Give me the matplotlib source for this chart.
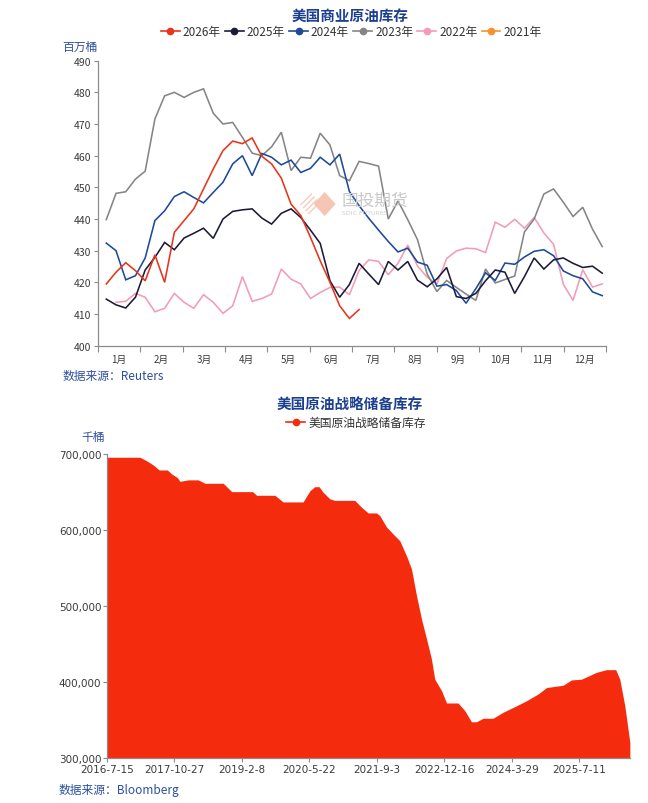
import numpy as np
import pandas as pd
import matplotlib
matplotlib.use("Agg")
import matplotlib.pyplot as plt
from matplotlib.lines import Line2D
from matplotlib.patches import Polygon
from matplotlib.ticker import FuncFormatter, FixedLocator

plt.rcParams['font.family'] = ['Noto Sans CJK SC', 'DejaVu Sans']

# ---- 美国商业原油库存 (百万桶), 每周数据 ----
months = ['1月', '2月', '3月', '4月', '5月', '6月', '7月', '8月', '9月', '10月', '11月', '12月']

y2026 = [419.5, 423.2, 426.2, 423.7, 420.5, 428.7, 420.0, 435.8, 439.5, 443.2, 449.5, 455.8,
         461.6, 464.6, 463.8, 465.6, 459.8, 457.4, 452.9, 444.7, 441.1, 434.2, 426.8, 420.0,
         412.6, 408.6, 411.4]
y2025 = [414.7, 412.9, 411.9, 415.3, 423.9, 427.9, 432.6, 430.3, 434.0, 435.5, 437.1, 433.9,
         440.0, 442.4, 442.9, 443.2, 440.3, 438.4, 441.8, 443.2, 440.5, 436.5, 432.3, 420.5,
         415.3, 419.3, 426.0, 422.6, 419.3, 426.6, 423.9, 426.6, 420.7, 418.6, 421.1, 424.7,
         415.5, 414.9, 416.5, 420.5, 423.9, 423.2, 416.5, 421.8, 427.7, 424.2, 427.1, 427.7,
         426.0, 424.7, 425.1, 422.9]
y2024 = [432.4, 430.0, 420.8, 422.1, 427.7, 439.5, 442.6, 447.1, 448.6, 446.8, 445.1, 448.4,
         451.6, 457.4, 460.0, 453.7, 460.7, 459.5, 457.1, 458.6, 454.7, 456.0, 459.5, 457.1,
         460.5, 448.7, 444.2, 440.2, 436.5, 432.9, 429.6, 430.8, 426.4, 425.4, 418.8, 419.3,
         417.4, 413.4, 418.0, 423.0, 420.6, 426.1, 425.7, 428.0, 429.8, 430.3, 428.4, 423.6,
         422.1, 421.1, 417.0, 415.8]
y2023 = [439.8, 448.1, 448.6, 452.6, 455.1, 471.6, 478.9, 480.0, 478.4, 480.0, 481.1, 473.4,
         470.0, 470.5, 465.8, 460.8, 460.0, 462.8, 467.4, 455.3, 459.5, 459.2, 467.1, 463.4,
         453.7, 452.1, 458.2, 457.5, 456.7, 440.0, 445.7, 439.8, 433.5, 422.6, 417.1, 420.6,
         418.4, 416.3, 414.3, 424.2, 419.8, 420.9, 422.0, 435.9, 440.0, 447.9, 449.5, 445.3,
         440.8, 443.7, 436.8, 431.3]
y2022 = [np.nan, 413.7, 414.0, 416.5, 415.3, 410.7, 411.8, 416.5, 413.7, 411.8, 416.1, 413.7,
         410.2, 412.6, 421.8, 414.0, 414.9, 416.3, 424.2, 421.0, 419.5, 414.9, 416.8, 418.4,
         418.5, 416.1, 423.8, 427.1, 426.6, 422.4, 426.0, 431.8, 425.2, 421.6, 419.5, 427.5,
         429.9, 430.8, 430.6, 429.4, 439.0, 437.4, 439.9, 437.1, 440.5, 435.6, 432.0, 419.4,
         414.3, 424.0, 418.5, 419.5]
y2021 = []

series = [('2026年', y2026, '#E8341C'), ('2025年', y2025, '#1B1B38'),
          ('2024年', y2024, '#1D4A9A'), ('2023年', y2023, '#858585'),
          ('2022年', y2022, '#F39CB6'), ('2021年', y2021, '#F7912E')]

# ---- 美国原油战略储备库存 (千桶) ----
spr_dates = ['2016-07-15', '2017-03-01', '2017-04-17', '2017-06-02', '2017-07-13', '2017-09-07',
             '2017-10-08', '2017-11-16', '2017-12-04', '2018-01-31', '2018-04-10', '2018-05-27',
             '2018-10-01', '2018-11-29', '2019-04-23', '2019-05-21', '2019-09-25', '2019-11-21',
             '2020-04-08', '2020-05-26', '2020-06-28', '2020-07-28', '2020-08-25', '2020-10-11',
             '2020-11-14', '2021-04-02', '2021-05-19', '2021-07-04', '2021-08-31', '2021-09-23',
             '2021-11-09', '2021-12-24', '2022-02-09', '2022-03-28', '2022-05-01', '2022-06-05',
             '2022-07-10', '2022-08-14', '2022-09-17', '2022-10-10', '2022-11-26', '2022-12-31',
             '2023-03-21', '2023-05-07', '2023-06-22', '2023-07-27', '2023-09-11', '2023-11-19',
             '2024-01-28', '2024-04-30', '2024-07-09', '2024-09-27', '2024-11-25', '2025-03-20',
             '2025-05-17', '2025-07-26', '2025-11-07', '2026-01-16', '2026-03-21', '2026-04-18',
             '2026-05-23', '2026-06-27']
spr_values = [695700, 695700, 691000, 685500, 679000, 679000, 673700, 669000, 664000, 666000,
              666000, 661500, 661500, 650500, 650500, 645700, 645700, 637000, 637000, 651800,
              657000, 657000, 649700, 641000, 639000, 639000, 630000, 622500, 622500, 619000,
              604000, 595000, 586000, 566000, 549000, 514000, 483000, 457000, 430500, 404000,
              389000, 372700, 372700, 362600, 348000, 348000, 352600, 352600, 360500, 369000,
              375700, 384500, 393000, 396000, 403000, 404000, 413000, 416500, 416500, 404000,
              369000, 321000]
spr_ticks = ['2016-07-15', '2017-10-27', '2019-02-08', '2020-05-22', '2021-09-03',
             '2022-12-16', '2024-03-29', '2025-07-11']

title_blue = '#1C3F8F'
src_blue = '#2D4F9E'
axis_gray = '#8C8C8C'
tick_text = '#3A3A3A'

fig = plt.figure(figsize=(6.48, 8.04), dpi=100)

# ================= top chart =================
ax1 = fig.add_axes([0.1512, 0.5688, 0.7840, 0.3545])
x_lo, x_hi = -0.855, 51.39
for name, vals, col in reversed(series):
    if len(vals) == 0:
        continue
    ax1.plot(np.arange(len(vals)), vals, color=col, lw=1.15, solid_joinstyle='miter')

ax1.set_xlim(x_lo, x_hi)
ax1.set_ylim(400, 490)
ax1.set_yticks(np.arange(400, 491, 10))
mw = (x_hi - x_lo) / 12
ax1.xaxis.set_major_locator(FixedLocator([x_lo + k * mw for k in range(13)]))
ax1.xaxis.set_minor_locator(FixedLocator([x_lo + (k + 0.5) * mw for k in range(12)]))
ax1.set_xticklabels([], minor=False)
ax1.set_xticklabels(months, minor=True)
ax1.tick_params(axis='x', which='major', length=4, width=0.8, color=axis_gray)
ax1.tick_params(axis='x', which='minor', length=0, labelsize=7, labelcolor=tick_text, pad=6)
ax1.tick_params(axis='y', length=3, width=0.8, color=axis_gray, labelsize=7.5,
                labelcolor=tick_text, pad=2)
for s in ['top', 'right']:
    ax1.spines[s].set_visible(False)
for s in ['left', 'bottom']:
    ax1.spines[s].set_color(axis_gray)
    ax1.spines[s].set_linewidth(0.9)

fig.text(0.54, 0.980, '美国商业原油库存', ha='center', va='center', fontsize=10.5,
         fontweight='bold', color=title_blue)
handles = [Line2D([0], [0], color=c, lw=1.2, marker='o', markersize=4.5) for _, _, c in series]
fig.legend(handles, [n for n, _, _ in series], loc='center', bbox_to_anchor=(0.542, 0.959),
           ncol=6, frameon=False, fontsize=8.5, handlelength=1.6, handletextpad=0.25,
           columnspacing=0.35, labelcolor='#333333', borderpad=0)
fig.text(0.096, 0.941, '百万桶', ha='left', va='center', fontsize=8.5, color=src_blue)
fig.text(0.096, 0.532, '数据来源：Reuters', ha='left', va='center', fontsize=8.5, color=src_blue)

# watermark
wm = '#F5BFAE'
fig.patches.append(Polygon([[0.462, 0.745], [0.479, 0.760], [0.496, 0.745], [0.479, 0.730]],
                           closed=True, transform=fig.transFigure, fill=False, hatch='//////',
                           edgecolor=wm, lw=0, alpha=0.8))
fig.patches.append(Polygon([[0.484, 0.745], [0.501, 0.760], [0.518, 0.745], [0.501, 0.730]],
                           closed=True, transform=fig.transFigure, facecolor=wm, lw=0, alpha=0.9))
fig.text(0.527, 0.750, '国投期货', ha='left', va='center', fontsize=12, color='#C9C9C9')
fig.text(0.528, 0.734, 'SDIC FUTURES', ha='left', va='center', fontsize=4.5, color='#CFCFCF',
         family=['DejaVu Sans'])

# ================= bottom chart =================
ax2 = fig.add_axes([0.1651, 0.0556, 0.8071, 0.3785])
d = pd.to_datetime(spr_dates)
ax2.fill_between(d, spr_values, 300000, color='#F52B0E', lw=0)
ax2.set_xlim(pd.Timestamp('2016-07-15'), pd.Timestamp('2026-06-28'))
ax2.set_ylim(300000, 700000)
ax2.set_yticks(np.arange(300000, 700001, 100000))
ax2.yaxis.set_major_formatter(FuncFormatter(lambda v, p: f"{int(v):,}"))
td = pd.to_datetime(spr_ticks)
ax2.set_xticks(td)
ax2.set_xticklabels([f"{t.year}-{t.month}-{t.day}" for t in td])
ax2.tick_params(axis='x', length=3, width=0.8, color=axis_gray, labelsize=7.5,
                labelcolor=tick_text, pad=1)
ax2.tick_params(axis='y', length=3, width=0.8, color=axis_gray, labelsize=7.5,
                labelcolor=tick_text, pad=1)
for lab in ax2.get_xticklabels() + ax2.get_yticklabels():
    lab.set_family(['DejaVu Sans'])
for s in ['top', 'right']:
    ax2.spines[s].set_visible(False)
for s in ['left', 'bottom']:
    ax2.spines[s].set_color(axis_gray)
    ax2.spines[s].set_linewidth(0.9)

fig.text(0.54, 0.496, '美国原油战略储备库存', ha='center', va='center', fontsize=10.5,
         fontweight='bold', color=title_blue)
fig.legend([Line2D([0], [0], color='#F52B0E', lw=1.2, marker='o', markersize=4.5)],
           ['美国原油战略储备库存'], loc='center', bbox_to_anchor=(0.55, 0.473),
           frameon=False, fontsize=8.5, handlelength=1.6, handletextpad=0.3,
           labelcolor='#333333', borderpad=0)
fig.text(0.126, 0.456, '千桶', ha='left', va='center', fontsize=8.5, color=src_blue)
fig.text(0.090, 0.017, '数据来源：Bloomberg', ha='left', va='center', fontsize=8.5, color=src_blue)

fig.savefig('out.png', dpi=100)
